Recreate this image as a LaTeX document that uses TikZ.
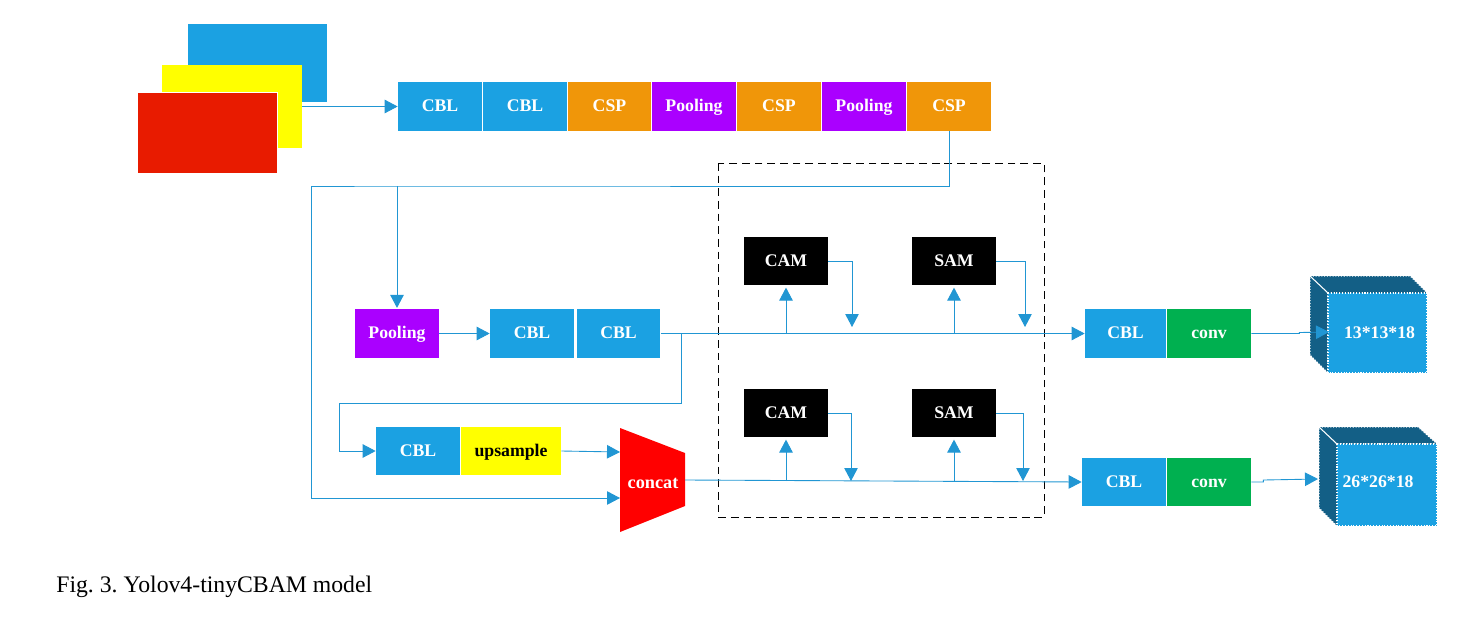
\documentclass[tikz,border=0pt]{standalone}
\usepackage{fontspec}
\setmainfont{Liberation Serif}
\usetikzlibrary{arrows.meta,calc}
\definecolor{cblblue}{HTML}{1BA1E2}
\definecolor{cubedark}{HTML}{135F86}
\definecolor{cspor}{HTML}{F09609}
\definecolor{poolpur}{HTML}{AA00FF}
\definecolor{convgr}{HTML}{00B050}
\definecolor{flowblue}{HTML}{2196D3}
\definecolor{upyel}{HTML}{FFFF00}
\definecolor{imgred}{HTML}{E81B00}
\definecolor{conred}{HTML}{FF0000}
\tikzset{
  blk/.style={fill=#1, text=white, minimum width=1.68cm, minimum height=0.97cm, inner sep=0pt, text height=6pt, text depth=0pt},
  flow/.style={draw=flowblue, line width=0.5pt, -{Triangle[length=2.6mm,width=2.7mm]}},
  wire/.style={draw=flowblue, line width=0.5pt},
  cubeside/.style={fill=cubedark, draw=white, densely dotted, line width=0.6pt},
  cubetext/.style={text=white, inner sep=0pt},
}
\begin{document}
\begin{tikzpicture}[x=0.02cm, y=-0.02cm, every node/.style={font=\bfseries\fontsize{10.1pt}{12pt}\selectfont}]
\useasboundingbox (0,0) rectangle (1474,616);
\node[fill=cblblue, minimum width=2.78cm, minimum height=1.56cm] (imgA) at (257.5,63) {};
\node[fill=upyel, minimum width=2.8cm, minimum height=1.66cm] (imgB) at (232,106.5) {};
\node[fill=imgred, draw=white, minimum width=2.8cm, minimum height=1.62cm, inner sep=0pt] (imgC) at (207.5,133) {};
\foreach \name/\lab/\col/\xx in {topA/CBL/cblblue/440, topB/CBL/cblblue/525, topC/CSP/cspor/609.5,
  topD/Pooling/poolpur/694, topE/CSP/cspor/779, topF/Pooling/poolpur/864, topG/CSP/cspor/949}
  \node[blk=\col] (\name) at (\xx,106.5) {\lab};
\node[blk=poolpur] (poolB) at (397,333.5) {Pooling};
\node[blk=cblblue] (cblB) at (532,333.5) {CBL};
\node[blk=cblblue] (cblC) at (618.5,333.5) {CBL};
\node[blk=cblblue] (cblU) at (418,451) {CBL};
\node[blk=upyel, text=black, minimum width=2cm] (upS) at (511,451) {upsample};
\node[blk=cblblue, minimum width=1.62cm] (cblX) at (1125.5,333.5) {CBL};
\node[blk=convgr] (convX) at (1209,333.5) {conv};
\node[blk=cblblue] (cblY) at (1124,482) {CBL};
\node[blk=convgr] (convY) at (1209,482) {conv};
\foreach \name/\lab/\xx/\yy in {camA/CAM/786/261, samA/SAM/954/261, camB/CAM/786/413, samB/SAM/954/413}
  \node[blk=black] (\name) at (\xx,\yy) {\lab};
\draw[dash pattern=on 4.4pt off 2.8pt, line width=0.5pt] (718,163) rectangle (1044,517);
% concat block
\fill[conred] (620,428) -- (685,453) -- (685,506) -- (620,532) -- cycle;
\node[text=white, font=\bfseries\fontsize{10.4pt}{12pt}\selectfont] (concat) at (653,483) {concat};
\coordinate (concatA) at (620,452);
\coordinate (concatB) at (620,498);
\coordinate (concatO) at (685,480);
% output cubes
\fill[cubeside] (1310,276) -- (1410,276) -- (1427,293) -- (1328,293) -- (1328,373) -- (1310,355) -- cycle;
\draw[white, line width=0.6pt] (1310,276) -- (1328,293);
\draw[fill=cblblue, draw=white, densely dotted, line width=0.6pt] (1328,293) rectangle (1427,373);
\node[cubetext] (cubeX) at (1379.5,333) {13*13*18};
\coordinate (cubeXin) at (1329,332);
\fill[cubeside] (1319,427) -- (1418,427) -- (1437,444) -- (1337,444) -- (1337,526) -- (1319,508) -- cycle;
\draw[white, line width=0.6pt] (1319,427) -- (1337,444);
\draw[fill=cblblue, draw=white, densely dotted, line width=0.6pt] (1337,444) rectangle (1437,526);
\node[cubetext] (cubeY) at (1378,482) {26*26*18};
\coordinate (cubeYin) at (1318,479);
% connectors
\coordinate (imgOut) at (imgB.east |- 0,106.5);
\draw[flow] (imgOut) -- (topA.west);
\coordinate (busL) at (311,186);
\coordinate (busP) at (397,186);
\draw[wire] (topG.south) |- (busP) -- (busL);
\draw[flow] (busL) |- (concatB);
\draw[flow] (busP) -- ($(poolB.north)+(0,-1)$);
\draw[flow] (poolB.east) -- (cblB.west);
\draw[flow] (cblC.east) -- (cblX.west);
\coordinate (tapU) at (681,333.5);
\coordinate (tapL) at (339,403.5);
\draw[wire] (tapU) |- (tapL);
\draw[flow] (tapL) |- (cblU.west);
\draw[flow] (upS.east) -- (concatA);
\draw[flow] (concatO) -- (cblY.west);
\foreach \up/\xx/\dn in {camA/786/852, samA/954/1025}{
  \coordinate (t\up) at (\xx,333.5);
  \draw[flow] (t\up) -- ($(\up.south)+(0,2)$);
  \draw[flow] (\up.east) -| (\dn,327);
}
\foreach \up/\xx/\dn in {camB/786/851, samB/954/1023}{
  \coordinate (t\up) at (\xx,481);
  \draw[flow] (t\up) -- ($(\up.south)+(0,2)$);
  \draw[flow] (\up.east) -| (\dn,481);
}
\draw[flow] (convX.east) -- ++(48,0) -- ++(0,-1) -- (cubeXin);
\draw[flow] (convY.east) -- ++(12,0) -- ++(0,-2) -- (cubeYin);
\node[anchor=base west, inner sep=0pt, font=\frenchspacing\fontsize{13.5pt}{15pt}\selectfont] (figCap) at (56,592) {Fig. 3. Yolov4-tinyCBAM model};
\end{tikzpicture}
\end{document}
